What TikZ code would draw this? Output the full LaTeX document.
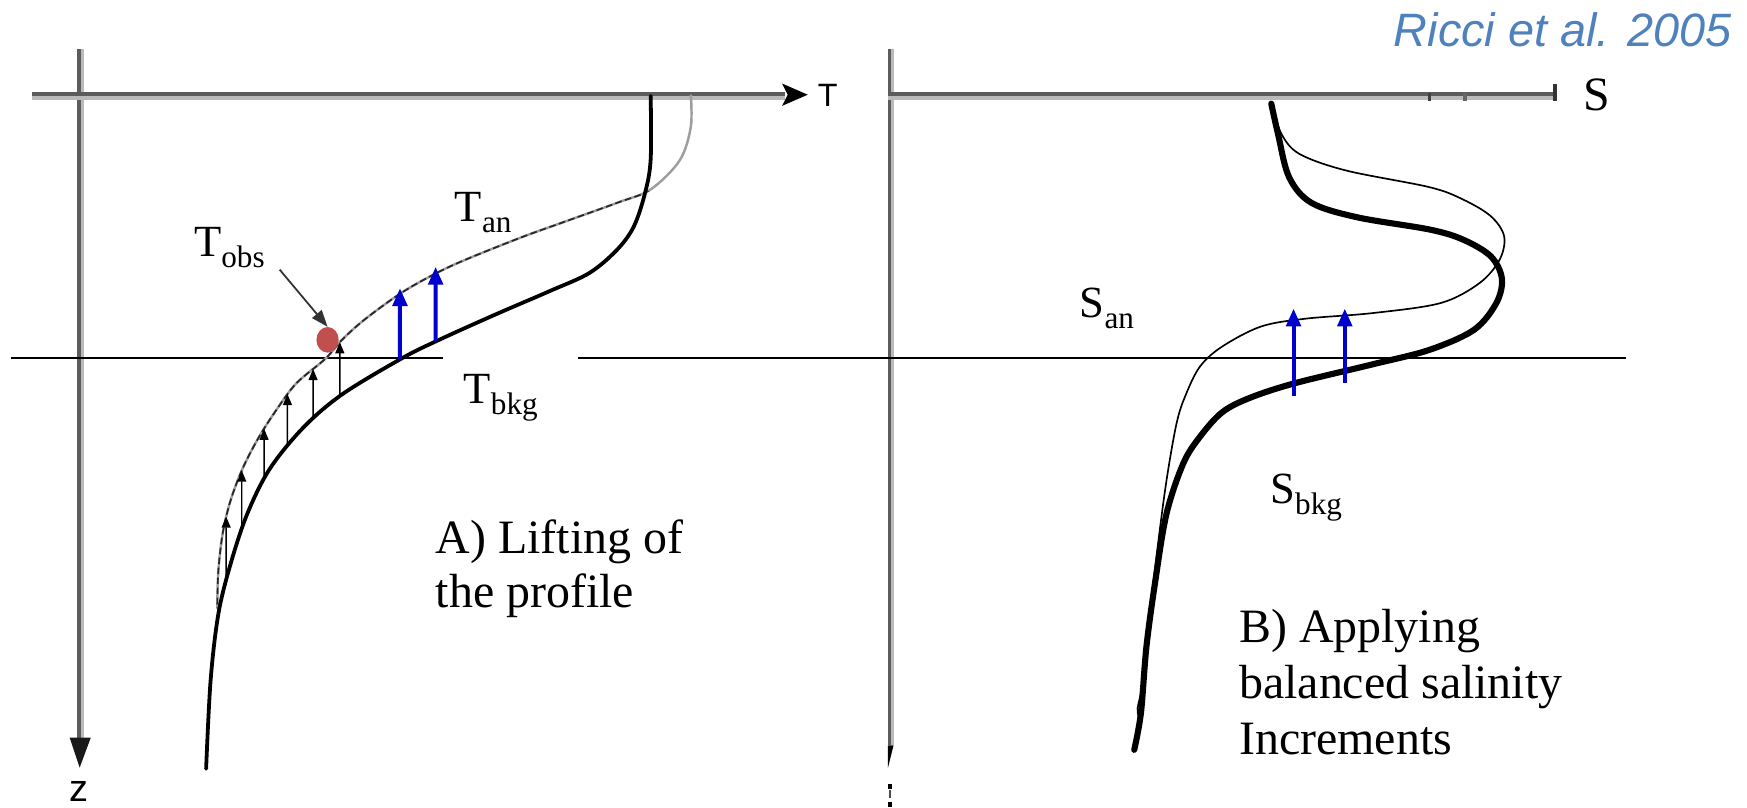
\documentclass[tikz,border=0pt]{standalone}
\usepackage{fontspec}
\setmainfont{Liberation Serif}
\newfontfamily\arialfont{Liberation Sans}
\usetikzlibrary{arrows.meta,intersections,shapes.geometric}
\definecolor{ricciblue}{RGB}{79,129,189}
\definecolor{incblue}{RGB}{0,0,205}
\definecolor{obsred}{RGB}{192,80,77}
\newcommand{\mainsz}{\fontsize{43}{48}\selectfont}
\newcommand{\lblsz}{\fontsize{40}{44}\selectfont}
\newcommand{\subsz}{\fontsize{28}{30}\selectfont}
\newcommand{\sublbl}[2]{#1\raisebox{-10pt}{\subsz #2}}
\begin{document}
\begin{tikzpicture}[x=1pt,y=-1pt,
  axdark/.style={line width=3.7pt, draw=black!64},
  axlight/.style={line width=3.2pt, draw=black!27},
  refline/.style={line width=1.8pt, draw=black},
  bkgline/.style={line width=3.4pt, draw=black, line cap=round, line join=round},
  sbkgline/.style={line width=5.5pt, draw=black, line cap=round, line join=round},
  sanline/.style={line width=1.5pt, draw=black},
  tanline/.style={line width=2.2pt, draw=black!38},
  tandash/.style={line width=1.5pt, draw=black!85, dash pattern=on 6pt off 3pt},
  liftarrow/.style={line width=1.3pt, draw=black, -{Triangle[length=10pt,width=8pt]}},
  incarrow/.style={line width=3.6pt, draw=incblue, -{Triangle[length=16pt,width=13pt]}},
  obsarrow/.style={line width=1.6pt, draw=black!80, -{Triangle[length=15pt,width=11pt]}},
  lbl/.style={anchor=base west, inner sep=0pt, font=\lblsz},
  para/.style={anchor=base west, inner sep=0pt, font=\mainsz}
]
\useasboundingbox[fill=white] (0,0) rectangle (1568,725);

% ---------------- left panel axes ----------------
\draw[axlight] (74,44) -- (74,672);
\draw[axdark] (70.9,44) -- (70.9,672);
\fill[black!90] (62.5,662) -- (81.5,662) -- (71.5,689) -- cycle;
\node[anchor=base, inner sep=0pt, font=\arialfont\fontsize{34}{34}\selectfont] (zlab) at (71,719) {z};

\draw[axlight] (28.7,88) -- (705,88);
\draw[axdark] (28.7,84.4) -- (705,84.4);
\fill[black] (702,75) -- (725,85) -- (702,95) -- (707,85) -- cycle;
\node[anchor=center, inner sep=0pt, font=\arialfont\fontsize{29}{29}\selectfont] (tlab) at (743,86) {T};

% ---------------- right panel axes ----------------
\draw[line width=2.7pt, draw=black!27] (800.6,44) -- (800.6,669);
\draw[line width=2.7pt, draw=black!64] (798.3,44) -- (798.3,669);
\fill[black] (797,669) -- (802,669) -- (797,689) -- cycle;
\fill[black] (797,704) rectangle (801,708);
\fill[black!70] (797.5,709) rectangle (799.5,716);
\fill[black] (797,720) rectangle (801,724);

\draw[axlight] (797,88) -- (1396,88);
\draw[axdark] (797,84.4) -- (1396,84.4);
\draw[line width=3.5pt, draw=black!80] (1396,75.4) -- (1396,90.6);
\draw[line width=3pt, draw=black!75] (1283,83.5) -- (1283,90.6);
\draw[line width=3pt, draw=black!60] (1315,83.5) -- (1315,90.6);
\node[anchor=base west, inner sep=0pt, font=\fontsize{43}{43}\selectfont] (slab) at (1421,99) {S};

% ---------------- reference depth line ----------------
\draw[refline] (10,321.5) -- (398,321.5);
\draw[refline] (519,321.5) -- (1459,321.5);

% ---------------- left panel profiles ----------------
\draw[tanline, name path=tanp] plot[smooth, tension=0.55] coordinates {
  (620,85) (620,114) (610,144) (584,170) (554,182) (504,200) (468,213)
  (418,233) (390,246) (360,263) (327,287) (307,305) (292,322) (266,344)
  (248,368) (232,393) (218,420) (207,449) (200,478) (196,512) (195,546)};
\begin{scope}
  \clip (0,172) rectangle (700,560);
  \draw[tandash] plot[smooth, tension=0.55] coordinates {
  (620,85) (620,114) (610,144) (584,170) (554,182) (504,200) (468,213)
  (418,233) (390,246) (360,263) (327,287) (307,305) (292,322) (266,344)
  (248,368) (232,393) (218,420) (207,449) (200,478) (196,512) (195,546)};
\end{scope}
\draw[bkgline, name path=bkgp] plot[smooth, tension=0.55] coordinates {
  (584,86) (584,143) (579,173) (569,203) (554,224) (529,245) (494,261)
  (443,283) (392,306) (360,322) (307,354) (272,384) (242,421) (222,461)
  (207,506) (196,551) (189,611) (185,690)};

% lifting arrows
\path[name path=vla] (305,280) -- (305,600);
\path[name path=vlb] (281,280) -- (281,600);
\path[name path=vlc] (258,280) -- (258,600);
\path[name path=vld] (237,280) -- (237,600);
\path[name path=vle] (217,280) -- (217,600);
\path[name path=vlf] (203,280) -- (203,600);
\path[name intersections={of={vla} and {bkgp}, name=pba}];
\path[name intersections={of={vla} and {tanp}, name=pta}];
\path[name intersections={of={vlb} and {bkgp}, name=pbb}];
\path[name intersections={of={vlb} and {tanp}, name=ptb}];
\path[name intersections={of={vlc} and {bkgp}, name=pbc}];
\path[name intersections={of={vlc} and {tanp}, name=ptc}];
\path[name intersections={of={vld} and {bkgp}, name=pbd}];
\path[name intersections={of={vld} and {tanp}, name=ptd}];
\path[name intersections={of={vle} and {bkgp}, name=pbe}];
\path[name intersections={of={vle} and {tanp}, name=pte}];
\path[name intersections={of={vlf} and {bkgp}, name=pbf}];
\path[name intersections={of={vlf} and {tanp}, name=ptf}];
\draw[liftarrow] (pba-1) -- (pta-1);
\draw[liftarrow] (pbb-1) -- (ptb-1);
\draw[liftarrow] (pbc-1) -- (ptc-1);
\draw[liftarrow] (pbd-1) -- (ptd-1);
\draw[liftarrow] (pbe-1) -- (pte-1);
\draw[liftarrow] (pbf-1) -- (ptf-1);

% increment arrows (blue), left
\path[name path=vba] (359,200) -- (359,340);
\path[name path=vbb] (391,200) -- (391,340);
\path[name intersections={of={vba} and {bkgp}, name=qba}];
\path[name intersections={of={vba} and {tanp}, name=qta}];
\path[name intersections={of={vbb} and {bkgp}, name=qbb}];
\path[name intersections={of={vbb} and {tanp}, name=qtb}];
\draw[incarrow] (qba-1) -- ([yshift=5pt]qta-1);
\draw[incarrow] (qbb-1) -- ([yshift=6pt]qtb-1);

% observation
\node[ellipse, fill=obsred, inner sep=0pt, minimum width=20pt, minimum height=23pt] (dot) at (294,305) {};
\coordinate (tobsfrom) at (251,242);
\draw[obsarrow] (tobsfrom) -- (dot.north);

\node[lbl] (tobs) at (174,230) {\sublbl{T}{obs}};
\node[lbl] (tanlab) at (408,199) {\sublbl{T}{an}};
\node[lbl] (tbkglab) at (416,362) {\sublbl{T}{bkg}};

\node[para] (a1) at (391,497) {A) Lifting of};
\node[para] (a2) at (391,545) {the profile};

% ---------------- right panel profiles ----------------
\draw[sanline] plot[smooth, tension=0.55] coordinates {
  (1144,100) (1150,120) (1166,138) (1208,153) (1283,168) (1313,179) (1338,194)
  (1350,212) (1346,233) (1328,254) (1293,272) (1232,281) (1172,286) (1132,293)
  (1097,311) (1077,329) (1064,355) (1056,380) (1047,431) (1039,491) (1032,551)
  (1026,611) (1021,636) (1023,645)};
\draw[sbkgline] plot[smooth, tension=0.55] coordinates {
  (1141,93) (1147,120) (1157,159) (1177,182) (1218,195) (1283,206) (1313,215)
  (1338,230) (1348,250) (1343,272) (1323,296) (1283,314) (1232,327) (1162,344)
  (1122,357) (1097,370) (1077,392) (1062,416) (1047,461) (1037,521) (1029,580)
  (1024,640) (1018,673)};

\coordinate (sb1) at (1161,355);
\coordinate (st1) at (1161,277);
\coordinate (sb2) at (1207,344);
\coordinate (st2) at (1207,277);
\draw[incarrow] (sb1) -- (st1);
\draw[incarrow] (sb2) -- (st2);

\node[lbl] (san) at (969,285) {\sublbl{S}{an}};
\node[lbl] (sbkg) at (1140,452) {\sublbl{S}{bkg}};

\node[para] (b1) at (1112,577) {B) Applying};
\node[para] (b2) at (1112,627) {balanced salinity};
\node[para] (b3) at (1112,677) {Increments};

% ---------------- citation ----------------
\node[anchor=base east, inner sep=0pt, text=ricciblue,
      font=\arialfont\itshape\fontsize{42}{42}\selectfont] (cite) at (1554,42) {Ricci et al. 2005};
\end{tikzpicture}
\end{document}
